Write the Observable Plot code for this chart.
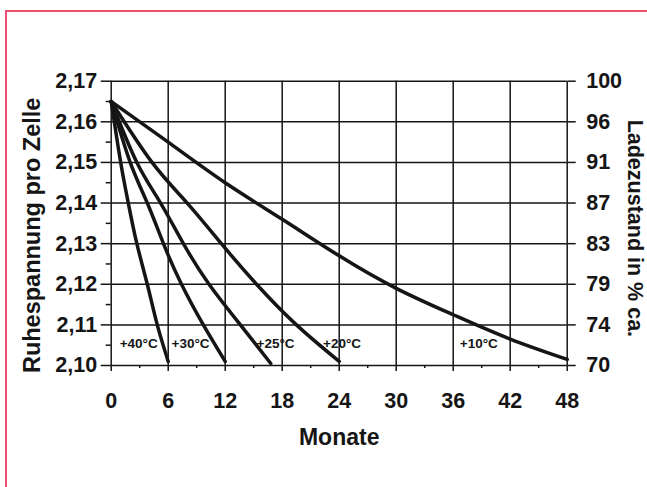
<!DOCTYPE html>
<html><head><meta charset="utf-8">
<script src="https://cdn.jsdelivr.net/npm/d3@7"></script>
<script src="https://cdn.jsdelivr.net/npm/@observablehq/plot@0.6"></script>
<style>
body{margin:0;background:#fff;}
#wrap{position:relative;width:647px;height:487px;overflow:hidden;background:#fff;}
#border{position:absolute;left:5px;top:10px;width:800px;height:700px;border-top:2px solid #e8506e;border-left:2px solid #e8506e;}
#chart{position:absolute;left:0;top:0;}
</style></head><body>
<div id="wrap"><div id="border"></div><div id="chart"></div></div>
<script>
// Axis ticks and labels
const voltTicks = [2.10, 2.11, 2.12, 2.13, 2.14, 2.15, 2.16, 2.17];
const voltLabels = ["2,10", "2,11", "2,12", "2,13", "2,14", "2,15", "2,16", "2,17"];
const chargeLabels = ["70", "74", "79", "83", "87", "91", "96", "100"];
const minorVoltTicks = [2.105, 2.115, 2.125, 2.135, 2.145, 2.155, 2.165];
const monthTicks = [0, 6, 12, 18, 24, 30, 36, 42, 48];
const minorMonthTicks = [3, 9, 15, 21, 27, 33, 39, 45];

// Series
const seriesNames = ["+40°C", "+30°C", "+25°C", "+20°C", "+10°C"];
const months40 = [0, 1, 1.8, 2.7, 3.8, 4.85, 6];
const volts40  = [2.165, 2.15, 2.14, 2.13, 2.12, 2.11, 2.101];
const months30 = [0, 2, 3.8, 5.5, 7.4, 9.7, 12];
const volts30  = [2.165, 2.15, 2.14, 2.13, 2.12, 2.11, 2.101];
const months25 = [0, 2.7, 5.2, 7.6, 10.3, 13.6, 16.8];
const volts25  = [2.165, 2.15, 2.14, 2.13, 2.12, 2.11, 2.1005];
const months20 = [0, 4.3, 8, 11.6, 15.3, 19.5, 24];
const volts20  = [2.165, 2.15, 2.14, 2.13, 2.12, 2.11, 2.101];
const months10 = [0, 6, 12, 18, 24, 30, 36, 42, 48];
const volts10  = [2.165, 2.155, 2.145, 2.136, 2.127, 2.119, 2.1125, 2.1065, 2.1015];

// Curve labels
const labelMonths = [2.9, 8.35, 17.3, 24.3, 38.7];
const labelVolts  = [2.1054, 2.1054, 2.1054, 2.1054, 2.1054];

const seriesMonths = [months40, months30, months25, months20, months10];
const seriesVolts = [volts40, volts30, volts25, volts20, volts10];
const table = seriesNames.flatMap((s, k) =>
  seriesMonths[k].map((m, i) => ({series: s, month: m, volt: seriesVolts[k][i]})));
const labelTable = seriesNames.map((s, i) => ({text: s, month: labelMonths[i], volt: labelVolts[i]}));

const leftMap = new Map(voltTicks.map((v, i) => [v, voltLabels[i]]));
const rightMap = new Map(voltTicks.map((v, i) => [v, chargeLabels[i]]));

const ink = "#151515";
const tickFont = 21.5;

const plot = Plot.plot({
  width: 647, height: 487,
  marginLeft: 110.7, marginRight: 80.3, marginTop: 80.7, marginBottom: 122,
  style: {fontFamily: "'Liberation Sans', Arial, sans-serif", fontWeight: "bold", color: ink, background: "transparent", overflow: "visible"},
  x: {domain: [0, 48]},
  y: {domain: [2.10, 2.17]},
  marks: [
    Plot.gridX(monthTicks, {stroke: ink, strokeOpacity: 1, strokeWidth: 1.5}),
    Plot.gridY(voltTicks, {stroke: ink, strokeOpacity: 1, strokeWidth: 1.5}),
    Plot.axisY(voltTicks, {anchor: "left", tickSize: 10, tickPadding: 4, strokeWidth: 1.5, stroke: ink,
      tickFormat: d => leftMap.get(d), fontSize: tickFont, label: null}),
    Plot.axisY(minorVoltTicks, {anchor: "left", tickSize: 5, strokeWidth: 1.5, stroke: ink, tickFormat: () => "", label: null}),
    Plot.axisY(voltTicks, {anchor: "right", tickSize: 8, tickPadding: 11, strokeWidth: 1.5, stroke: ink,
      tickFormat: d => rightMap.get(d), fontSize: tickFont, label: null}),
    Plot.axisX(monthTicks, {anchor: "bottom", tickSize: 6, tickPadding: 21, strokeWidth: 1.5, stroke: ink,
      fontSize: tickFont, label: null}),
    Plot.axisX(minorMonthTicks, {anchor: "bottom", tickSize: 3, strokeWidth: 1.5, stroke: ink, tickFormat: () => "", label: null}),
    Plot.line(table, {x: "month", y: "volt", z: "series", curve: "natural", stroke: ink, strokeWidth: 3.5}),
    Plot.text(labelTable, {x: "month", y: "volt", text: "text", fontSize: 13.5, fill: ink}),
    Plot.text(["Monate"], {frameAnchor: "bottom", dy: 79, fontSize: 23, fill: ink}),
    Plot.text(["Ruhespannung pro Zelle"], {frameAnchor: "left", textAnchor: "middle", dx: -79, dy: 12, rotate: -90, fontSize: 23.5, fill: ink}),
    Plot.text(["Ladezustand in % ca."], {frameAnchor: "right", textAnchor: "middle", dx: 68, dy: 5, rotate: 90, fontSize: 21.5, fill: ink})
  ]
});
document.getElementById("chart").appendChild(plot);
</script>
</body></html>
